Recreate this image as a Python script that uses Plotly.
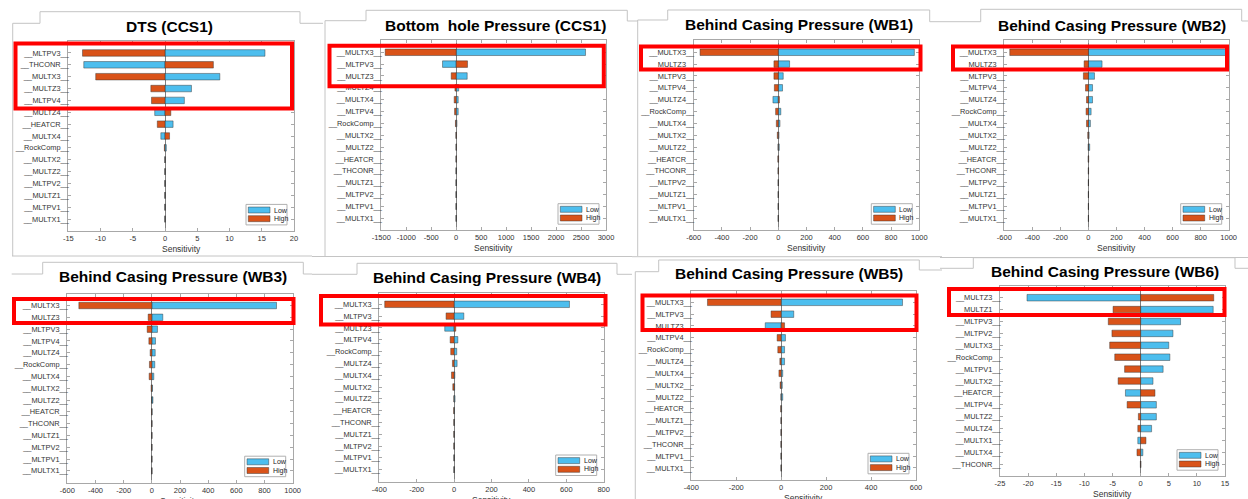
import plotly.graph_objects as go

# ---------------- data ----------------
dts_labels = ["__MLTPV3__", "__THCONR__", "__MULTX3__", "__MULTZ3__", "__MLTPV4__", "__MULTZ4__", "__HEATCR__",
              "__MULTX4__", "__RockComp__", "__MULTX2__", "__MULTZ2__", "__MLTPV2__", "__MULTZ1__", "__MLTPV1__", "__MULTX1__"]
dts_low = [15.5, -12.6, 8.5, 4.1, 3.0, -1.6, 1.25, -0.65, 0.2, 0, 0, 0, 0, 0, 0]
dts_high = [-12.8, 7.5, -10.75, -2.2, -2.1, 0.9, -1.2, 0.7, -0.1, 0, 0, 0, 0, 0, 0]

bhp_labels = ["__MULTX3__", "__MLTPV3__", "__MULTZ3__", "__MULTZ4__", "__MULTX4__", "__MLTPV4__", "__RockComp__",
              "__MULTX2__", "__MULTZ2__", "__HEATCR__", "__THCONR__", "__MULTZ1__", "__MLTPV2__", "__MLTPV1__", "__MULTX1__"]
bhp_low = [2590, -274, 220, 50, 40, 40, 15, 5, 6, 3, 0, 0, 0, 0, 0]
bhp_high = [-1422, 227, -100, -25, -40, -33, -15, -5, -3, -3, 0, 0, 0, 0, 0]

wb1_labels = ["__MULTX3__", "__MULTZ3__", "__MLTPV3__", "__MLTPV4__", "__MULTZ4__", "__RockComp__", "__MULTX4__",
              "__MULTX2__", "__MULTZ2__", "__HEATCR__", "__THCONR__", "__MLTPV2__", "__MULTZ1__", "__MLTPV1__", "__MULTX1__"]
wb1_low = [965, 80, 35, 30, -38, 18, 12, 5, 7, 2, 1, 0.5, 0.5, 0.5, 0.5]
wb1_high = [-555, -31, -31, -28, 8, -19, -14, -7, -2, -3, -2, -0.5, -0.5, -0.5, -0.5]

wb2_labels = ["__MULTX3__", "__MULTZ3__", "__MLTPV3__", "__MLTPV4__", "__MULTZ4__", "__RockComp__", "__MULTX4__",
              "__MULTX2__", "__MULTZ2__", "__HEATCR__", "__THCONR__", "__MLTPV2__", "__MULTZ1__", "__MLTPV1__", "__MULTX1__"]
wb2_low = [982, 97, 43, 29, 29, 19, 14, 5, 9, 2, 1, 0.5, 0.5, 0.5, 0.5]
wb2_high = [-561, -31, -36, -21, -14, -17, -14, -5, -2, -2, -1, -0.5, -0.5, -0.5, -0.5]

wb3_labels = ["__MULTX3__", "__MULTZ3__", "__MLTPV3__", "__MLTPV4__", "__MULTZ4__", "__RockComp__", "__MULTX4__",
              "__MULTX2__", "__MULTZ2__", "__HEATCR__", "__THCONR__", "__MULTZ1__", "__MLTPV2__", "__MLTPV1__", "__MULTX1__"]
wb3_low = [885, 78, 40, 26, 24, 21, 14, 5, 8, 2, 1, 0.5, 0.5, 0.5, 0.5]
wb3_high = [-518, -26, -33, -21, -12, -17, -19, -5, -1, -2, -1, -0.5, -0.5, -0.5, -0.5]

wb4_labels = ["__MULTX3__", "__MLTPV3__", "__MULTZ3__", "__MLTPV4__", "__RockComp__", "__MULTZ4__", "__MULTX4__",
              "__MULTX2__", "__MULTZ2__", "__HEATCR__", "__THCONR__", "__MULTZ1__", "__MLTPV2__", "__MLTPV1__", "__MULTX1__"]
wb4_low = [617, 52, -50, 20, 14, 16, 4, 3, 5, 2, 1, 1, 1, 0, 0]
wb4_high = [-371, -43, 9, -21, -18, -9, -14, -7, -1, -2, -1, -1, -1, 0, 0]

wb5_labels = ["__MULTX3__", "__MLTPV3__", "__MULTZ3__", "__MLTPV4__", "__RockComp__", "__MULTZ4__", "__MULTX4__",
              "__MULTX2__", "__MULTZ2__", "__HEATCR__", "__MULTZ1__", "__MLTPV2__", "__THCONR__", "__MLTPV1__", "__MULTX1__"]
wb5_low = [540, 56, -71, 19, 15, 15, 7, 5, 7, 2, 1, 1, 1, 0.5, 0.5]
wb5_high = [-328, -45, 15, -18, -15, -6, -10, -5, -1, -2, -1, -1, -1, -0.5, -0.5]

wb6_labels = ["__MULTZ3__", "__MULTZ1__", "__MLTPV3__", "__MLTPV2__", "__MULTX3__", "__RockComp__", "__MLTPV1__",
              "__MULTX2__", "__HEATCR__", "__MLTPV4__", "__MULTZ2__", "__MULTZ4__", "__MULTX1__", "__MULTX4__", "__THCONR__"]
wb6_low = [-20.2, 12.9, 7.1, 5.75, 5.0, 5.2, 4.0, 2.2, -2.7, 2.8, 2.8, 1.95, -0.5, 0.4, 0.05]
wb6_high = [13.0, -4.9, -5.75, -5.1, -5.5, -4.6, -2.85, -4.0, 2.55, -2.4, -0.4, -0.5, 0.95, -0.65, -0.05]

titles = ["DTS (CCS1)", "Bottom\u00a0 hole Pressure (CCS1)", "Behind Casing Pressure (WB1)",
          "Behind Casing Pressure (WB2)", "Behind Casing Pressure (WB3)", "Behind Casing Pressure (WB4)",
          "Behind Casing Pressure (WB5)", "Behind Casing Pressure (WB6)"]
x_ranges = [[-15, 20], [-1500, 3000], [-600, 1000], [-600, 1000], [-600, 1000], [-400, 800], [-400, 600], [-25, 15]]
x_dticks = [5, 500, 200, 200, 200, 200, 200, 5]
series = [(dts_labels, dts_low, dts_high), (bhp_labels, bhp_low, bhp_high), (wb1_labels, wb1_low, wb1_high),
          (wb2_labels, wb2_low, wb2_high), (wb3_labels, wb3_low, wb3_high), (wb4_labels, wb4_low, wb4_high),
          (wb5_labels, wb5_low, wb5_high), (wb6_labels, wb6_low, wb6_high)]

# ---------------- layout (pixel geometry) ----------------
W, H = 1248, 499
def px(x): return x / W
def py(y): return 1 - y / H

# axis boxes: left, top, right, bottom
boxes = [(68.3, 41.1, 294, 230.9), (381.3, 40.4, 606, 230.2), (693.7, 40.4, 919.3, 230.2),
         (1004.3, 40.4, 1228.7, 230.2), (67.3, 293.7, 292.7, 482.7), (379.3, 292.5, 603.7, 481.5),
         (691.3, 290.5, 916, 479.8), (1000, 285.8, 1225, 476.2)]
title_pos = [(170, 27), (496, 25), (799, 24), (1112, 25), (173.3, 276.7), (486.7, 277.7), (789.2, 273.3), (1104.7, 271.7)]
red_boxes = [(15.5, 43.5, 292, 108.5), (329.5, 45.8, 603.8, 86.2), (641, 46.5, 920.5, 69.5), (953, 46.5, 1227, 69.5),
             (14, 299, 293.5, 323), (321, 296, 605.5, 324.5), (642.5, 295.5, 916.5, 330), (949, 289, 1224.5, 315)]
frames = [
    [(12.7, 256), (12.7, 23.3), (40, 23.3), (40, 11.7), (300, 11.7), (300, 23.3), (323, 23.3)],
    [(325, 256), (325, 20.7), (366, 20.7), (366, 10.3), (627.3, 10.3), (627.3, 21), (637.7, 21)],
    [(637.7, 256), (637.7, 20), (667.7, 20), (667.7, 10), (929.7, 10), (929.7, 21.7), (980.7, 21.7)],
    [(980.7, 21.7), (980.7, 9.3), (1241.7, 9.3), (1241.7, 21), (1248, 21)],
    [(12, 256), (312, 256)], [(312, 256.5), (632, 256.5)], [(632, 256.7), (942, 256.7)], [(940, 257.5), (1248, 257.5)],
    [(11.7, 274), (42.7, 274), (42.7, 262.3), (303.3, 262.3), (303.3, 274), (312, 274)],
    [(312, 274.3), (357, 274.3), (357, 263.3), (617, 263.3), (617, 274.3), (632, 274.3)],
    [(635.3, 499), (635.3, 271.7), (658.7, 271.7), (658.7, 260), (919.3, 260), (919.3, 270), (942, 270)],
    [(940, 268.3), (973.3, 268.3), (973.3, 257.7), (1235, 257.7), (1235, 268.3), (1248, 268.3)],
]

BLUE = "#4DBEEE"
ORANGE = "#D95319"
EDGE = "rgba(50,50,50,0.75)"
AXC = "#a8a8a8"
FONT = "Liberation Sans, Arial, sans-serif"

fig = go.Figure()
shapes = []
annotations = []
layout = dict(width=W, height=H, margin=dict(l=0, r=0, t=0, b=0, autoexpand=False), paper_bgcolor="white",
              plot_bgcolor="white", barmode="overlay", showlegend=False, template="none",
              font=dict(family=FONT, size=7, color="#333333"))

for i in range(8):
    n = "" if i == 0 else str(i + 1)
    labels, low, high = series[i]
    l, t, r, b = boxes[i]
    fig.add_trace(go.Bar(y=labels, x=low, orientation="h", name="Low", width=0.55,
                         marker=dict(color=BLUE, line=dict(color=EDGE, width=0.6)),
                         xaxis="x" + n, yaxis="y" + n))
    fig.add_trace(go.Bar(y=labels, x=high, orientation="h", name="High", width=0.55,
                         marker=dict(color=ORANGE, line=dict(color=EDGE, width=0.6)),
                         xaxis="x" + n, yaxis="y" + n))
    lo, hi = x_ranges[i]
    d = x_dticks[i]
    tv = list(range(lo, hi + 1, d))
    layout["xaxis" + n] = dict(domain=[px(l), px(r)], anchor="y" + n, range=[lo, hi], tickvals=tv,
                               ticktext=[str(v) for v in tv], showgrid=False, zeroline=True,
                               zerolinecolor="#808080", zerolinewidth=1, showline=True, linecolor=AXC,
                               linewidth=1, mirror="ticks", ticks="inside", ticklen=3, tickcolor=AXC,
                               automargin=False,
                               tickfont=dict(family=FONT, size=7.5, color="#333333"), fixedrange=True)
    layout["yaxis" + n] = dict(domain=[py(b), py(t)], anchor="x" + n, type="category",
                               categoryorder="array", categoryarray=labels, range=[len(labels), -1],
                               showgrid=False, zeroline=False, showline=True, linecolor=AXC, linewidth=1,
                               mirror="ticks", ticks="inside", ticklen=3, tickcolor=AXC, automargin=False,
                               ticklabelstandoff=-3,
                               tickfont=dict(family=FONT, size=7.4, color="#333333"), fixedrange=True)
    # title
    tx, ty = title_pos[i]
    annotations.append(dict(text="<b>" + titles[i] + "</b>", x=px(tx), y=py(ty), xref="paper", yref="paper",
                            xanchor="center", yanchor="middle", showarrow=False,
                            font=dict(family=FONT, size=15.5, color="#000000")))
    # x axis title
    annotations.append(dict(text="Sensitivity", x=px((l + r) / 2), y=py(b + 18), xref="paper", yref="paper",
                            xanchor="center", yanchor="middle", showarrow=False,
                            font=dict(family=FONT, size=8.5, color="#333333")))
    # legend box
    lr, lb = r - 7, b - 6
    ll, lt = lr - 41, lb - 20.5
    shapes.append(dict(type="rect", xref="paper", yref="paper", x0=px(ll), x1=px(lr), y0=py(lb), y1=py(lt),
                       line=dict(color="#b0b0b0", width=1), fillcolor="white", layer="above"))
    for k, (col, name) in enumerate([(BLUE, "Low"), (ORANGE, "High")]):
        sy0 = lt + 2.6 + k * 8.7
        shapes.append(dict(type="rect", xref="paper", yref="paper", x0=px(ll + 2.3), x1=px(ll + 24),
                           y0=py(sy0 + 6), y1=py(sy0), line=dict(color=EDGE, width=0.6), fillcolor=col,
                           layer="above"))
        annotations.append(dict(text=name, x=px(ll + 26), y=py(sy0 + 3), xref="paper", yref="paper",
                                xanchor="left", yanchor="middle", showarrow=False,
                                font=dict(family=FONT, size=7, color="#222222")))
    # red highlight
    x0, y0, x1, y1 = red_boxes[i]
    shapes.append(dict(type="rect", xref="paper", yref="paper", x0=px(x0), x1=px(x1), y0=py(y1), y1=py(y0),
                       line=dict(color="#FF0000", width=4), fillcolor="rgba(0,0,0,0)", layer="above"))

for fr in frames:
    path = "M " + " L ".join(f"{px(x):.5f},{py(y):.5f}" for x, y in fr)
    shapes.append(dict(type="path", xref="paper", yref="paper", path=path,
                       line=dict(color="#c4c4c4", width=1), layer="below"))

layout["shapes"] = shapes
layout["annotations"] = annotations
fig.update_layout(**layout)
fig.write_html("out.html", config={"displayModeBar": False, "staticPlot": True},
               post_script="document.body.style.margin='0';document.body.style.overflow='hidden';")
